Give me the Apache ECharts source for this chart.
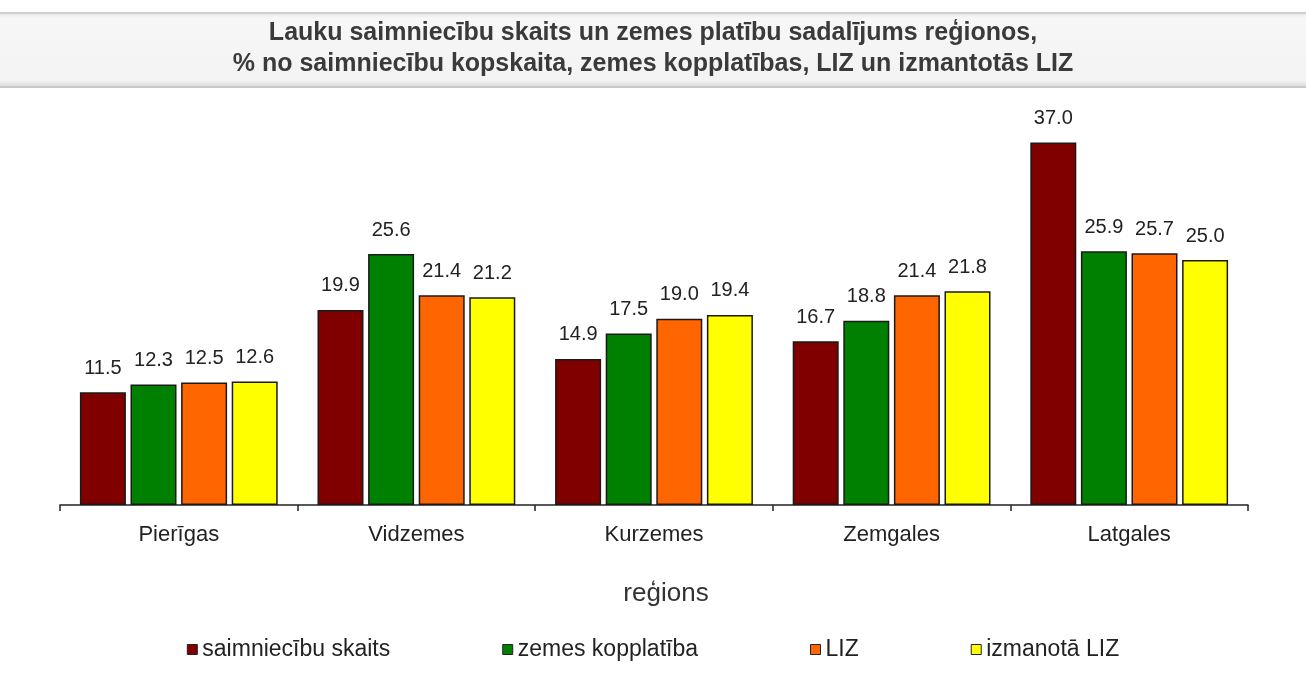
<!DOCTYPE html>
<html>
<head>
<meta charset="utf-8">
<style>
html,body{margin:0;padding:0;background:#fff;}
#c{width:1306px;height:684px;}
</style>
<script src="https://cdn.jsdelivr.net/npm/echarts@6/dist/echarts.min.js"></script>
</head>
<body>
<div id="c"></div>
<script>
const categories = ['Pierīgas', 'Vidzemes', 'Kurzemes', 'Zemgales', 'Latgales'];
const seriesNames = ['saimniecību skaits', 'zemes kopplatība', 'LIZ', 'izmanotā LIZ'];
const saimniecibuSkaits = [11.5, 19.9, 14.9, 16.7, 37.0];
const zemesKopplatiba = [12.3, 25.6, 17.5, 18.8, 25.9];
const liz = [12.5, 21.4, 19.0, 21.4, 25.7];
const izmantotaLiz = [12.6, 21.2, 19.4, 21.8, 25.0];
const colors = ['#800000', '#008000', '#FF6600', '#FFFF00'];
const titleText = 'Lauku saimniecību skaits un zemes platību sadalījums reģionos,\n% no saimniecību kopskaita, zemes kopplatības, LIZ un izmantotās LIZ';

const chart = echarts.init(document.getElementById('c'));
const values = [saimniecibuSkaits, zemesKopplatiba, liz, izmantotaLiz];
const font = 'Arial, "Liberation Sans", sans-serif';

chart.setOption({
  animation: false,
  textStyle: { fontFamily: font },
  graphic: [
    {
      type: 'rect', z: -1,
      shape: { x: 0, y: 12, width: 1306, height: 76 },
      style: {
        fill: new echarts.graphic.LinearGradient(0, 0, 0, 1, [
          { offset: 0, color: '#e2e2e2' },
          { offset: 0.08, color: '#f7f7f7' },
          { offset: 0.9, color: '#f3f3f3' },
          { offset: 1, color: '#d6d6d6' }
        ])
      }
    },
    { type: 'line', shape: { x1: 0, y1: 13, x2: 1306, y2: 13 }, style: { stroke: '#cfcfcf', lineWidth: 2 } },
    { type: 'line', shape: { x1: 0, y1: 87, x2: 1306, y2: 87 }, style: { stroke: '#c8c8c8', lineWidth: 2 } }
  ],
  title: {
    text: titleText,
    left: 'center',
    top: 13,
    textStyle: { fontSize: 25, fontWeight: 'bold', color: '#3a3a3a', lineHeight: 31, fontFamily: font }
  },
  legend: {
    data: seriesNames,
    top: 633,
    left: 'center',
    itemWidth: 10,
    itemHeight: 10,
    itemGap: 112,
    icon: 'rect',
    textStyle: { fontSize: 23, color: '#222', fontFamily: font },
    itemStyle: { borderColor: '#222', borderWidth: 1 }
  },
  grid: { left: 60, right: 58, top: 113, bottom: 179 },
  xAxis: {
    type: 'category',
    data: categories,
    name: 'reģions',
    nameLocation: 'middle',
    nameGap: 76,
    nameTextStyle: { fontSize: 26, color: '#333', fontFamily: font, padding: [0, 0, 0, 24] },
    axisLine: { lineStyle: { color: '#222', width: 1.5 } },
    axisTick: { show: true, length: 6, lineStyle: { color: '#222', width: 1.5 } },
    axisLabel: { fontSize: 22, color: '#222', margin: 19, fontFamily: font }
  },
  yAxis: {
    type: 'value',
    min: 0,
    max: 40,
    show: false,
    splitLine: { show: false }
  },
  series: seriesNames.map((n, i) => ({
    name: n,
    type: 'bar',
    data: values[i],
    barWidth: 46,
    barGap: '10%',
    itemStyle: { color: colors[i], borderColor: '#1a1a1a', borderWidth: 1.5 },
    label: {
      show: true,
      position: 'top',
      distance: 14,
      formatter: p => p.value.toFixed(1),
      fontSize: 20,
      color: '#222',
      fontFamily: font
    }
  }))
});
</script>
</body>
</html>
